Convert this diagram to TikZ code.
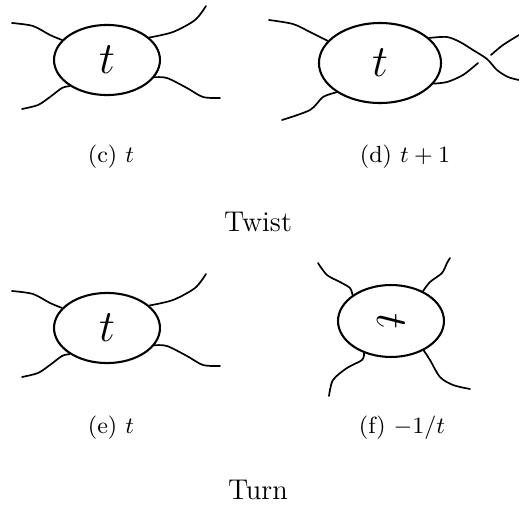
\documentclass[tikz,border=0pt]{standalone}
\usepackage{amsmath}
\usepackage{tikz}
\usetikzlibrary{shapes.geometric}

\begin{document}
\begin{tikzpicture}[
  x=0.385pt, y=-0.385pt,
  blob/.style={draw, ellipse, inner sep=0pt, line width=0.8pt},
  strand/.style={line width=0.65pt, line cap=round},
  hand/.style={font=\fontsize{17}{20}\selectfont},
  sub/.style={font=\small},
  title/.style={font=\fontsize{11}{13}\selectfont}
]
\useasboundingbox (0,0) rectangle (519,506);

% twist
\node[blob, minimum width=40.8pt, minimum height=27pt] (blobc) at (107,60) {};
\node[hand] (tc) at (blobc) {$t$};
\draw[strand] plot[smooth] coordinates {(blobc.156) (50,35) (33,26) (12,23)};
\draw[strand] plot[smooth] coordinates {(blobc.28) (173,32) (195,20) (206,6)};
\draw[strand] plot[smooth] coordinates {(blobc.215) (62,88) (50,97) (38,105) (22,109)};
\draw[strand] plot[smooth] coordinates {(blobc.340) (167,78) (187,88) (203,97) (220,98)};

\node[blob, minimum width=47pt, minimum height=30.8pt] (blobd) at (380,63) {};
\node[hand] (td) at (blobd) {$t$};
\draw[strand] plot[smooth] coordinates {(blobd.157) (310,32) (293,24) (269,20)};
\draw[strand] plot[smooth] coordinates {(blobd.214) (323,97) (310,110) (282,120)};
\draw[strand] plot[smooth] coordinates {(blobd.27) (447,37) (460,42) (473,50) (487,59) (497,70) (508,77) (519,80)};
\draw[strand] plot[smooth] coordinates {(blobd.339) (447,82) (463,75) (478,63)};
\coordinate (over) at (491,55);
\draw[strand] plot[smooth] coordinates {(over) (503,45) (519,35)};

\node[sub] (capc) at (111,157) {(c)~$t$};
\node[sub] (capd) at (405,157) {(d)~$t+1$};
\node[title] (twist) at (258,222) {Twist};

% turn
\node[blob, minimum width=40.8pt, minimum height=27pt] (blobe) at (107,328) {};
\node[hand] (te) at (blobe) {$t$};
\draw[strand] plot[smooth] coordinates {(blobe.156) (50,303) (33,294) (12,291)};
\draw[strand] plot[smooth] coordinates {(blobe.28) (173,300) (195,288) (206,274)};
\draw[strand] plot[smooth] coordinates {(blobe.215) (62,356) (50,365) (38,373) (22,377)};
\draw[strand] plot[smooth] coordinates {(blobe.340) (167,346) (187,356) (203,365) (220,366)};

\node[blob, minimum width=40.8pt, minimum height=27.7pt] (blobf) at (391,321) {};
\node[hand, rotate=-90] (tf) at (blobf) {$t$};
\draw[strand] plot[smooth] coordinates {(blobf.146) (350,288) (340,282) (327,275) (318,263)};
\draw[strand] plot[smooth] coordinates {(blobf.43) (430,282) (442,273) (447,263) (450,258)};
\draw[strand] plot[smooth] coordinates {(blobf.230) (362,360) (347,368) (333,380) (329,396)};
\draw[strand] plot[smooth] coordinates {(blobf.318) (430,360) (440,377) (453,385) (470,389)};

\node[sub] (cape) at (111,428) {(e)~$t$};
\node[sub] (capf) at (402,428) {(f)~$-1/t$};
\node[title] (turn) at (258,490) {Turn};
\end{tikzpicture}
\end{document}
